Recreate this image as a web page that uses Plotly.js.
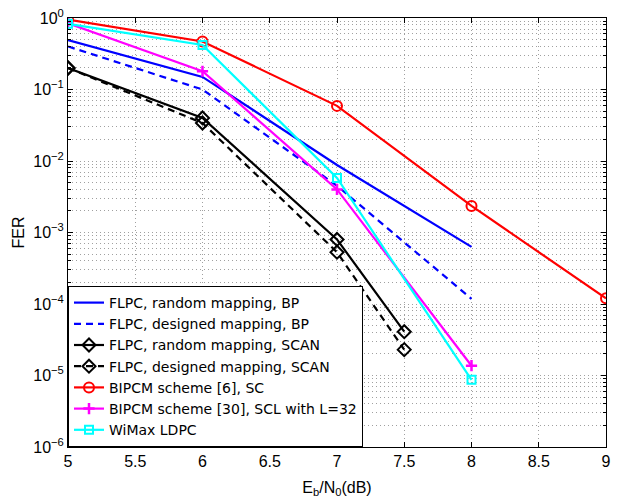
<!DOCTYPE html>
<html><head><meta charset="utf-8">
<script src="https://cdn.plot.ly/plotly-3.0.1.min.js"></script>
<style>body{margin:0;background:#fff}#plot{width:621px;height:500px}</style>
</head><body><div id="plot"></div>
<script>
const xAll = [5, 6, 7, 8];
const flpcRandBP = [0.49, 0.15, 0.0088, 0.00063];
const flpcDesBP = [0.40, 0.10, 0.0045, 0.000118];
const xScan = [5, 6, 7, 7.5];
const flpcRandSCAN = [0.20, 0.040, 0.00080, 0.000041];
const flpcDesSCAN = [0.20, 0.034, 0.00053, 0.000023];
const xBipcm6 = [5, 6, 7, 8, 9];
const bipcm6 = [0.95, 0.47, 0.059, 0.00235, 0.00012];
const bipcm30 = [0.84, 0.18, 0.0040, 0.0000137];
const wimax = [0.83, 0.42, 0.0058, 0.0000087];
const names = ['FLPC, random mapping, BP','FLPC, designed mapping, BP','FLPC, random mapping, SCAN','FLPC, designed mapping, SCAN','BIPCM scheme [6], SC','BIPCM scheme [30], SCL with L=32','WiMax LDPC'];
const yTickVals = [1e-6,1e-5,1e-4,1e-3,1e-2,1e-1,1];
const yTickText = ['10<sup>\u22126</sup>','10<sup>\u22125</sup>','10<sup>\u22124</sup>','10<sup>\u22123</sup>','10<sup>\u22122</sup>','10<sup>\u22121</sup>','10<sup>0</sup>'];
const xTickVals = [5,5.5,6,6.5,7,7.5,8,8.5,9];

const minorY = [];
for (let e = -6; e < 0; e++) for (let m = 2; m <= 9; m++) minorY.push(m * Math.pow(10, e));

const lw = 2.2;
const dashPat = '7px,5px';
const traces = [
  {x: xAll, y: flpcRandBP, name: names[0], mode: 'lines', line: {color: '#0000ff', width: lw}},
  {x: xAll, y: flpcDesBP, name: names[1], mode: 'lines', line: {color: '#0000ff', width: lw, dash: dashPat}},
  {x: xScan, y: flpcRandSCAN, name: names[2], mode: 'lines+markers', line: {color: '#000', width: lw},
   marker: {symbol: 'diamond-open', size: 10, color: '#000', line: {width: 2}}},
  {x: xScan, y: flpcDesSCAN, name: names[3], mode: 'lines+markers', line: {color: '#000', width: lw, dash: dashPat},
   marker: {symbol: 'diamond-open', size: 10, color: '#000', line: {width: 2}}},
  {x: xBipcm6, y: bipcm6, name: names[4], mode: 'lines+markers', line: {color: '#ff0000', width: lw},
   marker: {symbol: 'circle-open', size: 10, color: '#ff0000', line: {width: 2}}},
  {x: xAll, y: bipcm30, name: names[5], mode: 'lines+markers', line: {color: '#ff00ff', width: lw},
   marker: {symbol: 'cross-thin-open', size: 8, color: '#ff00ff', line: {width: 2.5, color: '#ff00ff'}}},
  {x: xAll, y: wimax, name: names[6], mode: 'lines+markers', line: {color: '#00ffff', width: lw},
   marker: {symbol: 'square-open', size: 8, color: '#00ffff', line: {width: 2}}}
];

const font = {family: 'Liberation Sans, Arial, sans-serif', size: 16, color: '#000'};
const legFont = {family: 'DejaVu Sans, sans-serif', size: 14, color: '#000'};
const gridCol = '#a0a0a0';
const gridDash = '1px,3px';
const layout = {
  width: 621, height: 500,
  margin: {l: 68, r: 15, t: 18, b: 53},
  paper_bgcolor: '#fff', plot_bgcolor: '#fff',
  font: font,
  showlegend: true,
  legend: {x: 0, y: 0, xanchor: 'left', yanchor: 'bottom', bgcolor: '#fff', bordercolor: '#000', borderwidth: 1,
           font: legFont, tracegroupgap: 0},
  xaxis: {
    range: [5, 9], tickmode: 'array', tickvals: xTickVals, ticktext: xTickVals.map(String),
    showline: true, linecolor: '#000', linewidth: 1, mirror: 'ticks', ticks: 'inside', ticklen: 5, tickcolor: '#000',
    showgrid: true, gridcolor: gridCol, griddash: gridDash, gridwidth: 1, zeroline: false,
    title: {text: 'E<sub>b</sub>/N<sub>0</sub>(dB)', font: font, standoff: 12},
    tickfont: font
  },
  yaxis: {
    type: 'log', range: [-6, 0], tickmode: 'array', tickvals: yTickVals, ticktext: yTickText,
    showline: true, linecolor: '#000', linewidth: 1, mirror: 'ticks', ticks: 'inside', ticklen: 5, tickcolor: '#000',
    showgrid: true, gridcolor: gridCol, griddash: gridDash, gridwidth: 1, zeroline: false,
    minor: {tickmode: 'array', tickvals: minorY, ticks: 'inside', ticklen: 3, tickcolor: '#000',
            showgrid: true, gridcolor: gridCol, griddash: gridDash, gridwidth: 1},
    title: {text: 'FER', font: font, standoff: 4},
    tickfont: font
  }
};
Plotly.newPlot('plot', traces, layout, {displayModeBar: false, staticPlot: true});
</script></body></html>
